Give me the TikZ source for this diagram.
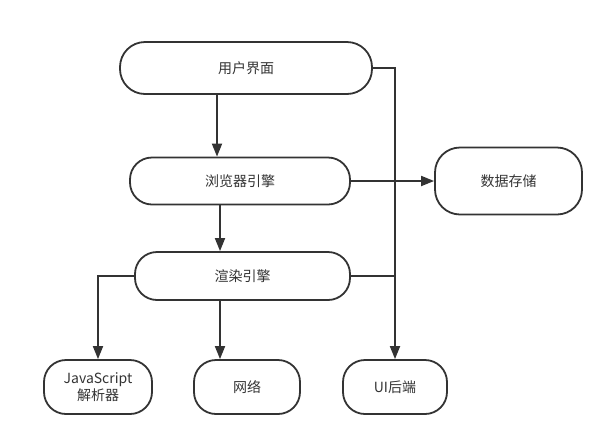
\documentclass[tikz,border=0pt]{standalone}
\usepackage{fontspec}
\setmainfont{Noto Sans CJK SC}
\usetikzlibrary{arrows.meta}
\definecolor{linegray}{HTML}{333333}
\tikzset{
  box/.style = {draw = linegray, line width = 1.8pt, text = linegray,
    font = \fontsize{14}{17}\selectfont, align = center, inner sep = 0pt},
  arr/.style = {draw = linegray, line width = 1.8pt,
    -{Triangle[length = 13pt, width = 10pt]}},
  wire/.style = {draw = linegray, line width = 1.8pt}
}
\begin{document}
\begin{tikzpicture}[x = 1pt, y = -1pt]
    \useasboundingbox (0, 0) rectangle (608, 440);
    \node [box, rounded corners = 25pt, minimum width = 252pt, minimum height = 52pt] (ui) at (246, 68) {用户界面};
    \node [box, rounded corners = 22pt, minimum width = 220pt, minimum height = 47pt] (engine) at (240, 181) {浏览器引擎};
    \node [box, rounded corners = 22pt, minimum width = 215pt, minimum height = 48pt] (render) at (242.5, 276) {渲染引擎};
    \node [box, rounded corners = 25pt, minimum width = 147pt, minimum height = 67pt] (storage) at (508.5, 181) {数据存储};
    \node [box, rounded corners = 22pt, minimum width = 108pt, minimum height = 54pt] (js) at (98, 387) {JavaScript\\解析器};
    \node [box, rounded corners = 22pt, minimum width = 106pt, minimum height = 54pt] (net) at (247, 387) {网络};
    \node [box, rounded corners = 22pt, minimum width = 104pt, minimum height = 54pt] (backend) at (395, 387) {UI后端};
    \draw [arr] ([xshift = -29pt] ui.south) -- ([xshift = -23pt] engine.north);
    \draw [arr] ([xshift = -20pt] engine.south) -- ([xshift = -22.5pt] render.north);
    \draw [arr] ([xshift = -22.5pt] render.south) -- ([xshift = -27pt] net.north);
    \draw [arr] (render.west) -| (js.north);
    \draw [arr] (engine.east) -- (storage.west);
    \draw [arr] (ui.east) -| (backend.north);
    \draw [wire] (render.east) -- (render.east -| backend.north);
\end{tikzpicture}
\end{document}
